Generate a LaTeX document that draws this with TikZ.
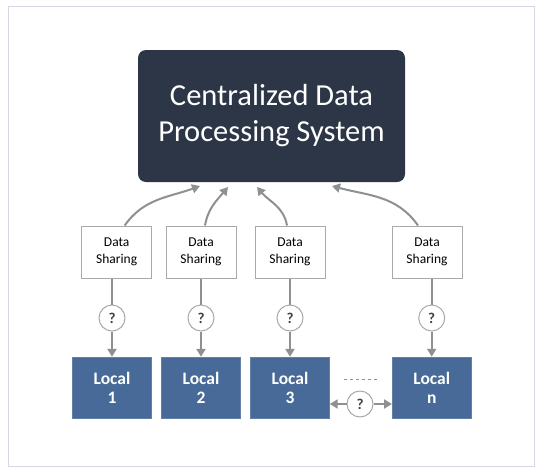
\documentclass[tikz,border=0pt]{standalone}
\usepackage{fontspec}
\setmainfont{Carlito}
\usetikzlibrary{arrows.meta,positioning}
\definecolor{sysNavy}{HTML}{2C3646}
\definecolor{locBlue}{HTML}{476A98}
\definecolor{lineGray}{HTML}{8F9093}
\definecolor{boxGray}{HTML}{A9A9AB}
\definecolor{frameLav}{HTML}{D3D7E6}

\begin{document}
\begin{tikzpicture}
  [x=1pt,y=1pt,
   sysN/.style={fill=sysNavy,text=white,rounded corners=8pt,minimum width=267pt,
     minimum height=132pt,align=center,font=\fontsize{30.5}{36}\selectfont},
   shareN/.style={draw=boxGray,line width=1pt,fill=white,minimum width=70pt,
     minimum height=52pt,inner sep=0pt,align=center,font=\fontsize{13.5}{17}\selectfont},
   locN/.style={fill=locBlue,draw=locBlue!85!white,text=white,minimum width=79pt,
     minimum height=61pt,inner sep=0pt,align=center,font=\bfseries\fontsize{17.5}{19}\selectfont},
   askN/.style={circle,draw=boxGray,line width=1pt,fill=white,minimum size=26pt,
     inner sep=0pt,text=black!75,font=\bfseries\fontsize{15}{16}\selectfont},
   linkL/.style={draw=lineGray,line width=2pt},
   flowA/.style={linkL,-{Triangle[width=9pt,length=8pt]}},
  ]

 \useasboundingbox (0,0) rectangle (540,-474);
 \draw[frameLav,line width=1pt] (8,-6) rectangle (534,-466);

 \node[sysN] (sys) at (271.5,-116) {Centralized Data\\Processing System};

 \node[shareN] (ds1) at (116.7,-252) {Data\\Sharing};
 \node[shareN] (ds2) at (201,-252) {Data\\Sharing};
 \node[shareN] (ds3) at (290,-252) {Data\\Sharing};
 \node[shareN] (ds4) at (427,-252) {Data\\Sharing};

 \node[locN] (loc1) at (112,-387.5) {Local\\1};
 \node[locN] (loc2) at (201,-387.5) {Local\\2};
 \node[locN] (loc3) at (290,-387.5) {Local\\3};
 \node[locN] (locn) at (431.7,-387.5) {Local\\n};

 \node[askN] (q1) at (112,-318) {?};
 \node[askN] (q2) at (201,-318) {?};
 \node[askN] (q3) at (290,-318) {?};
 \node[askN] (q4) at (431.7,-318) {?};
 \node[askN] (qb) at (360,-404) {?};

 \coordinate (t1) at (200,-186);
 \coordinate (t2) at (228,-187);
 \coordinate (t3) at (257,-187);
 \coordinate (t4) at (332,-186);

 % sharing up to the system
 \draw[flowA] ([xshift=8pt]ds1.north) to[out=55,in=200] (t1);
 \draw[flowA] ([xshift=4pt]ds2.north) to[out=80,in=230] (t2);
 \draw[flowA] ([xshift=-3pt]ds3.north) to[out=100,in=-50] (t3);
 \draw[flowA] ([xshift=-9pt]ds4.north) to[out=125,in=-15] (t4);

 % sharing down to the locals
 \foreach \i/\j in {1/1,2/2,3/3,4/n}{
   \draw[linkL] (ds\i.south -| q\i) -- (q\i);
   \draw[flowA] (q\i) -- (loc\j);
 }

 \draw[linkL,{Triangle[width=9pt,length=8pt]}-] (qb -| loc3.east) -- (qb);
 \draw[flowA] (qb) -- (qb -| locn.west);
 \draw[lineGray,line width=1pt,dash pattern=on 3pt off 3pt] (344,-379) -- (377,-379);
\end{tikzpicture}
\end{document}
